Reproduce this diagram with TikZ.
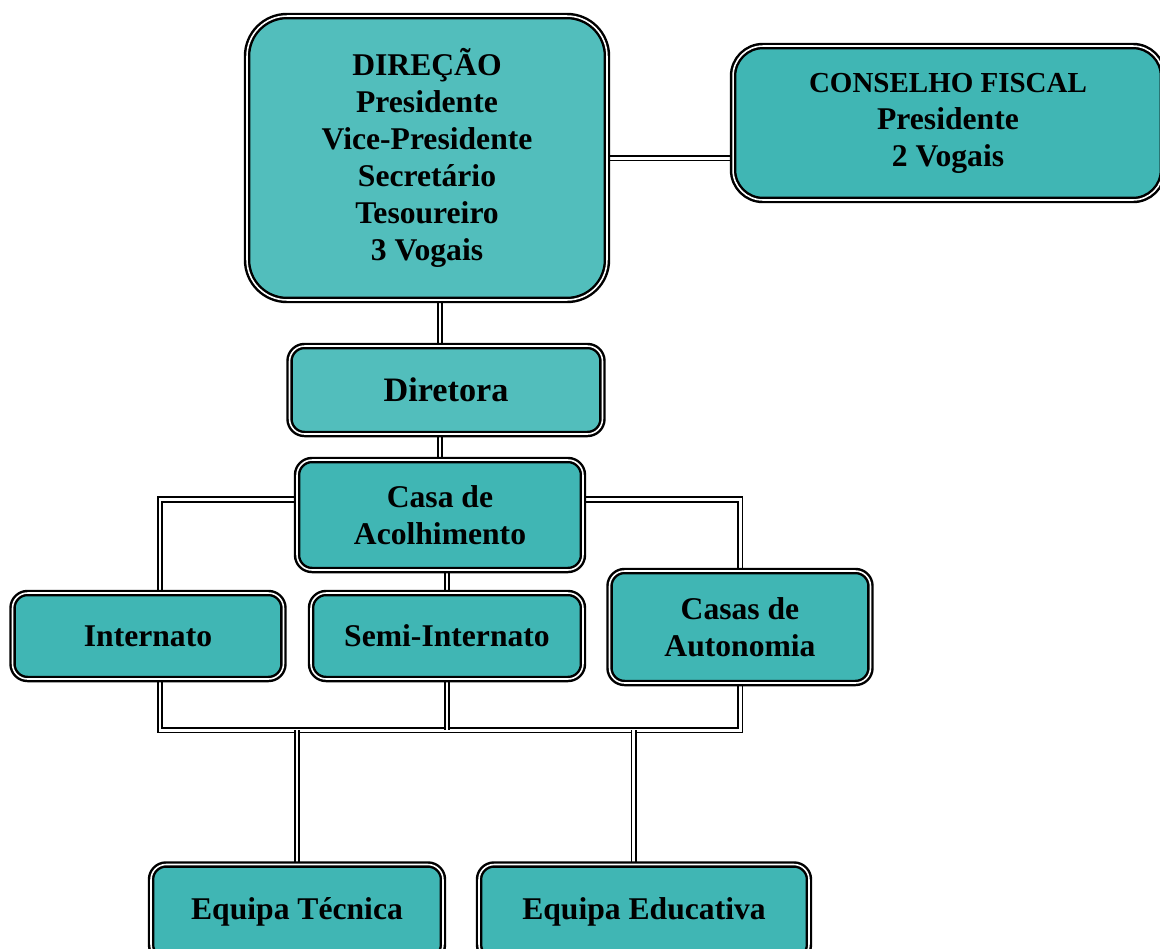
\documentclass[tikz,border=0pt]{standalone}
\usepackage{fontspec}
\setmainfont{Liberation Serif}
\usetikzlibrary{backgrounds}
\definecolor{tealbox}{RGB}{64,182,180}
\definecolor{tealtop}{RGB}{82,190,188}
\begin{document}
\begin{tikzpicture}[x=0.02cm, y=-0.02cm, line join=round,
	box/.style={draw, fill=tealbox, rounded corners=0.3cm, line width=1.4pt, double=white, double distance=0.9pt,
		align=center, inner sep=0pt, font=\bfseries\fontsize{18}{21}\selectfont},
	link/.style={draw, line width=1.1pt, double=white, double distance=1.7pt}]
	\useasboundingbox (0,0) rectangle (1160,948);
	\node[box, fill=tealtop, rounded corners=0.8cm, minimum width=7.2cm, minimum height=5.68cm] (dir) at (427,158)
		{DIREÇÃO\\Presidente\\Vice-Presidente\\Secretário\\Tesoureiro\\3 Vogais};
	\node[box, rounded corners=0.6cm, minimum width=8.6cm, minimum height=3.08cm] (cons) at (948,123)
		{{\fontsize{16.5}{21}\selectfont CONSELHO FISCAL}\\Presidente\\2 Vogais};
	\node[box, fill=tealtop, minimum width=6.26cm, minimum height=1.76cm, font=\bfseries\fontsize{19.5}{23}\selectfont] (dra) at (446,390) {Diretora};
	\node[box, minimum width=5.72cm, minimum height=2.2cm] (casa) at (440,515) {Casa de\\Acolhimento};
	\node[box, minimum width=5.42cm, minimum height=1.72cm] (int) at (148,636) {Internato};
	\node[box, minimum width=5.44cm, minimum height=1.72cm] (semi) at (447,636) {Semi-Internato};
	\node[box, minimum width=5.22cm, minimum height=2.24cm] (aut) at (740,627) {Casas de\\Autonomia};
	\node[box, minimum width=5.84cm, minimum height=1.9cm] (tec) at (297,912) {Equipa Técnica};
	\node[box, minimum width=6.6cm, minimum height=1.9cm] (edu) at (644,912) {Equipa Educativa};
	\path (160,730) coordinate (busL) (740,730) coordinate (busR);
	\begin{scope}[on background layer]
		\draw[link] (dir.east) -- (dir.east -| cons.west);
		\draw[link] (dir.south -| casa.north) -- (dra.north -| casa.north);
		\draw[link] (dra.south -| casa.north) -- (casa.north);
		\draw[link] ([yshift=9pt]casa.west) -| (int.north -| busL);
		\draw[link] ([yshift=9pt]casa.east) -| (aut.north);
		\draw[link] (casa.south -| semi.north) -- (semi.north);
		\draw[link] (int.south -| busL) -- (busL) -- (busR) -- (aut.south);
		\draw[link] (semi.south) -- (semi.south |- busL);
		\draw[link] (tec.north |- busL) -- (tec.north);
		\draw[link] ([xshift=-5.7pt]edu.north |- busL) -- ([xshift=-5.7pt]edu.north);
	\end{scope}
\end{tikzpicture}
\end{document}
